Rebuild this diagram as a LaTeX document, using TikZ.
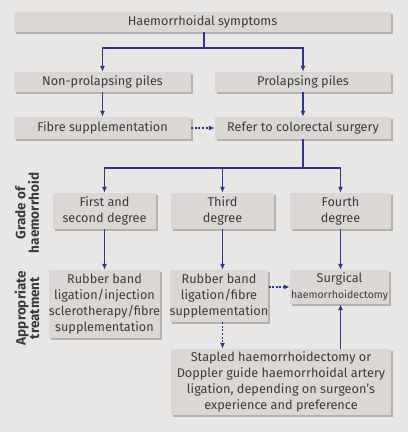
\documentclass[tikz,border=0pt]{standalone}
\usepackage{fontspec}
\setmainfont{Fira Sans}
\usetikzlibrary{arrows.meta,shadows,calc}
\definecolor{bgc}{HTML}{E8E7E6}
\definecolor{boxc}{HTML}{DAD7D5}
\definecolor{shc}{HTML}{B5B1AF}
\definecolor{arc}{HTML}{2F3687}
\definecolor{txc}{HTML}{3C3C3C}
\begin{document}
\begin{tikzpicture}[x=1pt,y=-1pt,
  box/.style={fill=boxc, draw=none, inner sep=0pt, align=center, text=txc,
    font=\fontsize{12.7}{16}\selectfont,
    drop shadow={shadow xshift=2pt, shadow yshift=-2pt, fill=shc, opacity=1}},
  arr/.style={draw=arc, line width=1.3pt, -{Latex[length=6pt,width=5pt]}},
  darr/.style={arr, dash pattern=on 2pt off 1.6pt},
  ln/.style={draw=arc, line width=1.3pt},
  lab/.style={rotate=90, align=center, text=txc, font=\bfseries\fontsize{13.5}{13.5}\selectfont}]
\fill[bgc] (0,0) rectangle (408,432);
\useasboundingbox (0,0) rectangle (408,432);
\node[box, minimum width=377pt, minimum height=20pt] (top) at (202.5,22) {Haemorrhoidal symptoms};
\node[box, minimum width=177pt, minimum height=20pt] (np) at (102.5,82) {Non-prolapsing piles};
\node[box, minimum width=176pt, minimum height=20pt] (pp) at (303,82) {Prolapsing piles};
\node[box, minimum width=177pt, minimum height=22pt] (fs) at (102.5,128) {Fibre supplementation};
\node[box, minimum width=176pt, minimum height=22pt] (rc) at (303,128) {Refer to colorectal surgery};
\node[box, minimum width=103pt, minimum height=36pt] (g1) at (104.5,211) {First and\\second degree};
\node[box, minimum width=103pt, minimum height=36pt] (g3) at (222.5,211) {Third\\degree};
\node[box, minimum width=101pt, minimum height=36pt] (g4) at (340.5,211) {Fourth\\degree};
\node[box, minimum width=103pt, minimum height=68pt] (t1) at (104.5,304) {Rubber band\\ligation/injection\\sclerotherapy/fibre\\supplementation};
\node[box, minimum width=96pt, minimum height=52pt] (t3) at (219,296) {Rubber band\\ligation/fibre\\supplementation};
\node[box, minimum width=99pt, minimum height=34pt] (t4) at (339.5,287) {Surgical\\{\fontsize{10.5}{14}\selectfont haemorrhoidectomy}};
\node[box, minimum width=220pt, minimum height=66pt] (st) at (281,382) {Stapled haemorrhoidectomy or\\Doppler guide haemorrhoidal artery\\ligation, depending on surgeon’s\\experience and preference};
\node[lab] (lg) at (27,213) {Grade of\\haemorrhoid};
\node[lab] (lt) at (27,308) {Appropriate\\treatment};
\coordinate (b1) at (204,48);
\coordinate (b2) at (303,168);
\draw[ln] (top.south -| b1) -- (b1);
\draw[arr] (b1) -| (np.north);
\draw[arr] (b1) -| (pp.north);
\draw[arr] (np) -- (fs);
\draw[arr] (pp) -- (rc);
\draw[darr] (fs) -- (rc);
\draw[ln] (rc.south) -- (b2);
\draw[arr] (b2) -| (g1.north);
\draw[arr] (b2) -| (g3.north);
\draw[arr] (b2) -| (g4.north);
\draw[arr] (g1) -- (t1);
\draw[arr] (g3.south) -- (g3.south |- t3.north);
\draw[arr] (g4.south) -- (g4.south |- t4.north);
\draw[darr] (t3.east |- t4.west) -- (t4.west);
\draw[darr] (g3 |- t3.south) -- (g3 |- st.north);
\draw[arr] (g4 |- st.north) -- (g4 |- t4.south);
\end{tikzpicture}
\end{document}
